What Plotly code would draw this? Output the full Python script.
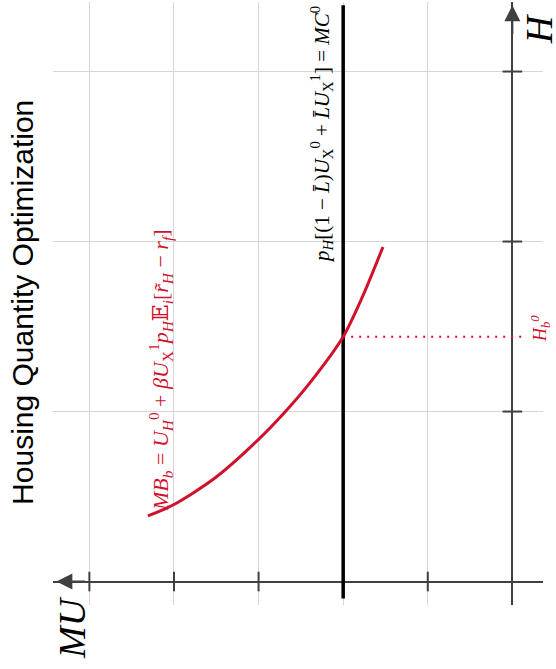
import plotly.graph_objects as go

# Marginal benefit curve MB_b (MU as a function of housing H)
curve_mu = [2.154, 2.006, 1.758, 1.503, 1.344, 1.184, 1.000, 0.889, 0.765]
curve_h = [0.386, 0.450, 0.609, 0.833, 0.997, 1.185, 1.440, 1.668, 1.968]

# Marginal cost level and optimal housing quantity
mc_level = 1.0
h_opt = 1.44

# Grid / tick positions
mu_ticks = [0.5, 1.0, 1.5, 2.0, 2.5]
h_ticks = [1, 2, 3]

# Axis ranges (MU runs right-to-left, H bottom-to-top)
mu_range = [2.715, -0.181]
h_range = [-0.138, 3.409]

RED = "#d0112b"
AXIS = "#404040"
SERIF = "Liberation Serif, DejaVu Serif, serif"

fig = go.Figure()

# tick crosses on the two axes
fig.add_trace(go.Scatter(
    x=mu_ticks, y=[0] * len(mu_ticks), mode="markers",
    marker=dict(symbol="line-ns", size=14, line=dict(width=2, color=AXIS)),
    hoverinfo="skip"))
fig.add_trace(go.Scatter(
    x=[0] * len(h_ticks), y=h_ticks, mode="markers",
    marker=dict(symbol="line-ew", size=14, line=dict(width=2, color=AXIS)),
    hoverinfo="skip"))

# marginal cost line
fig.add_trace(go.Scatter(
    x=[mc_level, mc_level], y=[-0.10, 3.39], mode="lines",
    line=dict(color="black", width=3.5), hoverinfo="skip"))

# dotted guide from the optimum to the H axis
fig.add_trace(go.Scatter(
    x=[mc_level, -0.08], y=[h_opt, h_opt], mode="lines",
    line=dict(color=RED, width=2, dash="2px,6px"), hoverinfo="skip"))

# marginal benefit curve
fig.add_trace(go.Scatter(
    x=curve_mu, y=curve_h, mode="lines",
    line=dict(color=RED, width=3, shape="spline", smoothing=0.8),
    hoverinfo="skip"))

C = dict(xanchor="center", yanchor="middle", showarrow=False, textangle=-90)

ann = []
# axis arrowheads
ann.append(dict(x=0, y=3.39, xref="x", yref="y", ax=0, ay=30,
                showarrow=True, arrowhead=2, arrowsize=1.6,
                arrowwidth=2, arrowcolor=AXIS, text=""))
ann.append(dict(x=2.695, y=0, xref="x", yref="y", ax=30, ay=0,
                showarrow=True, arrowhead=2, arrowsize=1.6,
                arrowwidth=2, arrowcolor=AXIS, text=""))

# axis titles
ann.append(dict(x=0.0388, y=-0.038, xref="paper", yref="paper",
                text="<i>MU</i>",
                font=dict(family=SERIF, size=38, color="black"), **C))
ann.append(dict(x=-0.158, y=3.25, xref="x", yref="y", text="<i>H</i>",
                font=dict(family=SERIF, size=38, color="black"), **C))

# chart title
ann.append(dict(x=-0.0612, y=0.501, xref="paper", yref="paper",
                text="Housing Quantity Optimization",
                font=dict(family="Liberation Sans, Arial, sans-serif",
                          size=30, color="black"), **C))

# marginal cost label
ann.append(dict(x=1.125, y=2.627, xref="x", yref="y",
                text=("<i>p<sub>H</sub></i>[(1 − <i>L̄</i>)<i>U</i><sub>X</sub><sup>0</sup>"
                      " + <i>L̄U</i><sub>X</sub><sup>1</sup>] = <i>MC</i><sup>0</sup>"),
                font=dict(family=SERIF, size=21, color="black"), **C))

# marginal benefit label
ann.append(dict(x=2.083, y=1.244, xref="x", yref="y",
                text=("<i>MB<sub>b</sub></i> = <i>U</i><sub><i>H</i></sub><sup>0</sup>"
                      " + <i>βU</i><sub>X</sub><sup>1</sup><i>p<sub>H</sub></i>𝔼<sub><i>i</i></sub>"
                      "[<i>r̃<sub>H</sub></i> − <i>r<sub>f</sub></i>]"),
                font=dict(family=SERIF, size=22, color=RED), **C))

# optimum label
ann.append(dict(x=-0.163, y=1.491, xref="x", yref="y",
                text="<i>H<sub>b</sub><sup>0</sup></i>",
                font=dict(family=SERIF, size=18, color=RED), **C))

fig.update_layout(
    width=556, height=669,
    margin=dict(l=53, r=13, t=2, b=64),
    plot_bgcolor="white", paper_bgcolor="white",
    showlegend=False,
    annotations=ann,
    xaxis=dict(range=mu_range, tickvals=mu_ticks, showticklabels=False,
               showgrid=True, gridcolor="#d6d6d6", gridwidth=1,
               zeroline=True, zerolinecolor=AXIS, zerolinewidth=2,
               showline=False, ticks=""),
    yaxis=dict(range=h_range, tickvals=h_ticks, showticklabels=False,
               showgrid=True, gridcolor="#d6d6d6", gridwidth=1,
               zeroline=True, zerolinecolor=AXIS, zerolinewidth=2,
               showline=False, ticks=""),
)

fig.write_html("out.html")
